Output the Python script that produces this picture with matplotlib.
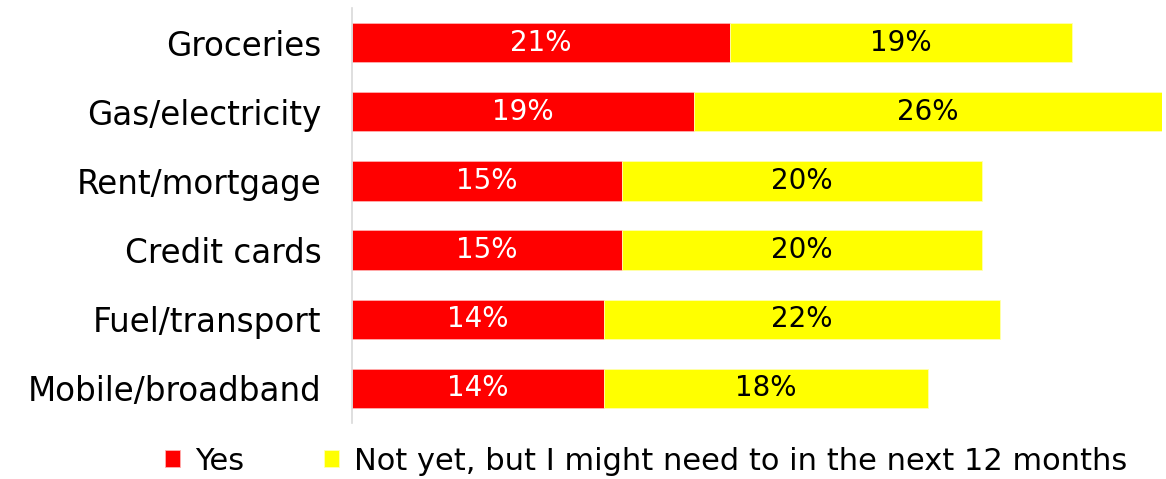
import matplotlib.pyplot as plt
import numpy as np

categories = ['Groceries', 'Gas/electricity', 'Rent/mortgage',
              'Credit cards', 'Fuel/transport', 'Mobile/broadband']
yes_pct = [21, 19, 15, 15, 14, 14]
not_yet_pct = [19, 26, 20, 20, 22, 18]
series_names = ['Yes', 'Not yet, but I might need to in the next 12 months']

RED = '#ff0000'
YELLOW = '#ffff00'

plt.rcParams['font.family'] = ['DejaVu Sans']

fig = plt.figure(figsize=(11.66, 4.79), dpi=100)
ax = fig.add_axes([352 / 1166, 56 / 479, 810 / 1166, 415 / 479])

y = np.arange(len(categories))
yes = np.array(yes_pct)
nyet = np.array(not_yet_pct)

b1 = ax.barh(y, yes, height=0.57, color=RED, edgecolor='#ffb0b0',
             linewidth=0.6, label=series_names[0])
b2 = ax.barh(y, nyet, left=yes, height=0.57, color=YELLOW,
             edgecolor='#ffffb0', linewidth=0.6, label=series_names[1])

# value labels in the middle of each segment
for i in range(len(categories)):
    ax.text(yes[i] / 2, y[i], f'{yes[i]}%', ha='center', va='center',
            color='white', fontsize=20)
    ax.text(yes[i] + nyet[i] / 2, y[i], f'{nyet[i]}%', ha='center',
            va='center', color='black', fontsize=20)

ax.set_xlim(0, 45)
ax.set_ylim(len(categories) - 0.5, -0.5)
ax.set_yticks(y)
ax.set_yticklabels(categories, fontsize=23.5)
ax.tick_params(axis='y', length=0, pad=22)
ax.set_xticks([])
for side in ['top', 'right', 'bottom']:
    ax.spines[side].set_visible(False)
ax.spines['left'].set_color('#d9d9d9')
ax.spines['left'].set_linewidth(1.2)

fig.legend(handles=[b1, b2], labels=series_names, loc='center',
           bbox_to_anchor=(646 / 1166, 1 - 461 / 479), ncol=2, frameon=False,
           fontsize=22, handlelength=0.5, handleheight=0.5,
           handletextpad=0.5, columnspacing=2.6)

fig.savefig('out.png', dpi=100)
